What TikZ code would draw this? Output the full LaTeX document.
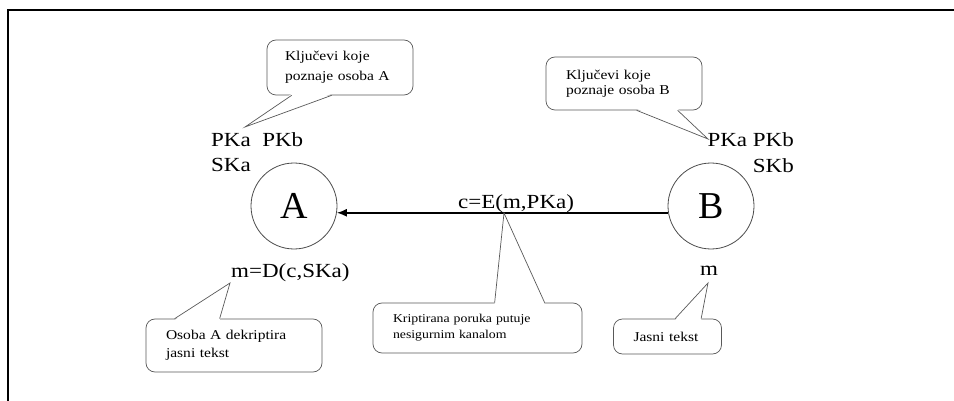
\documentclass[tikz,border=0pt]{standalone}
\usepackage{fontspec}
\setmainfont{Liberation Serif}[FakeStretch=1.15]
\newfontfamily\plainserif{Liberation Serif}
\usetikzlibrary{positioning,arrows.meta}

\begin{document}
\begin{tikzpicture}[x=1pt,y=-1pt,>={Latex[length=10pt,width=8pt]},
    person/.style={circle,draw=black!70,line width=0.8pt,minimum size=86pt,inner sep=0pt,font=\plainserif\fontsize{38}{38}\selectfont},
    key/.style={inner sep=1pt,font=\fontsize{20}{24}\selectfont},
    bubble/.style={draw=black!65,line width=0.7pt,rounded corners=9pt,fill=white,align=left,inner xsep=20pt,inner ysep=0pt,font=\fontsize{13.5}{#1}\selectfont},
    pointer/.style={draw=black!65,line width=0.7pt,line join=miter}]
    \useasboundingbox (0,0) rectangle (954,401);

    % frame
    \draw[line width=2.5pt] (8,401) -- (8,10) -- (954,10);

    % the two persons
    \node[person] (A) at (294,206) {A};
    \node[person] (B) at (711,206) {B};

    % keys and messages
    \node[key,anchor=base west] (keysA) at (210,147) {PKa\ \ PKb};
    \node[key,anchor=base west] (skA) at (210,172) {SKa};
    \node[key,anchor=base east] (keysB) at (795,147) {PKa PKb};
    \node[key,anchor=base east] (skB) at (795,173) {SKb};
    \node[key,anchor=base west] (dec) at (230,277) {m=D(c,SKa)};
    \node[key,anchor=base west] (plain) at (699,276) {m};
    \node[key,anchor=base west] (enc) at (457,208) {c=E(m,PKa)};

    \draw[->,line width=1.5pt] (B.189) -- (A.-9);

    % callouts
    \node[bubble=20,inner xsep=18pt,text width=110pt,minimum height=55pt] (noteA) at (340,67.5) {Ključevi koje\\poznaje osoba A};
    \node[bubble=15,text width=116pt,minimum height=53pt] (noteB) at (624,83.5) {Ključevi koje\\poznaje osoba B};
    \node[bubble=18,text width=136pt,minimum height=53pt] (noteDec) at (234,345.5) {Osoba A dekriptira\\jasni tekst};
    \node[bubble=16,font=\fontsize{12}{16}\selectfont,text width=169pt,minimum height=50pt] (noteCh) at (477.5,328) {Kriptirana poruka putuje\\nesigurnim kanalom};
    \node[bubble=16,text width=68pt,minimum height=35pt] (notePl) at (667.5,336.5) {Jasni tekst};

    \coordinate (tipA) at (245,127);
    \coordinate (tipB) at (708,139);
    \coordinate (tipDec) at (230,283);
    \coordinate (tipCh) at (504,213);
    \coordinate (tipPl) at (708,283);

    \fill[white] ([xshift=25pt,yshift=1.5pt]noteA.south west) -- (tipA) -- ([xshift=65pt,yshift=1.5pt]noteA.south west) -- cycle;
    \draw[pointer] ([xshift=25pt]noteA.south west) -- (tipA) -- ([xshift=65pt]noteA.south west);

    \fill[white] ([xshift=91pt,yshift=1.5pt]noteB.south west) -- (tipB) -- ([xshift=132pt,yshift=1.5pt]noteB.south west) -- cycle;
    \draw[pointer] ([xshift=91pt]noteB.south west) -- (tipB) -- ([xshift=132pt]noteB.south west);

    \fill[white] ([xshift=29pt,yshift=-1.5pt]noteDec.north west) -- (tipDec) -- ([xshift=74pt,yshift=-1.5pt]noteDec.north west) -- cycle;
    \draw[pointer] ([xshift=29pt]noteDec.north west) -- (tipDec) -- ([xshift=74pt]noteDec.north west);

    \fill[white] ([xshift=122pt,yshift=-1.5pt]noteCh.north west) -- (tipCh) -- ([xshift=172pt,yshift=-1.5pt]noteCh.north west) -- cycle;
    \draw[pointer] ([xshift=122pt]noteCh.north west) -- (tipCh) -- ([xshift=172pt]noteCh.north west);

    \fill[white] ([xshift=62pt,yshift=-1.5pt]notePl.north west) -- (tipPl) -- ([xshift=88pt,yshift=-1.5pt]notePl.north west) -- cycle;
    \draw[pointer] ([xshift=62pt]notePl.north west) -- (tipPl) -- ([xshift=88pt]notePl.north west);
\end{tikzpicture}
\end{document}
